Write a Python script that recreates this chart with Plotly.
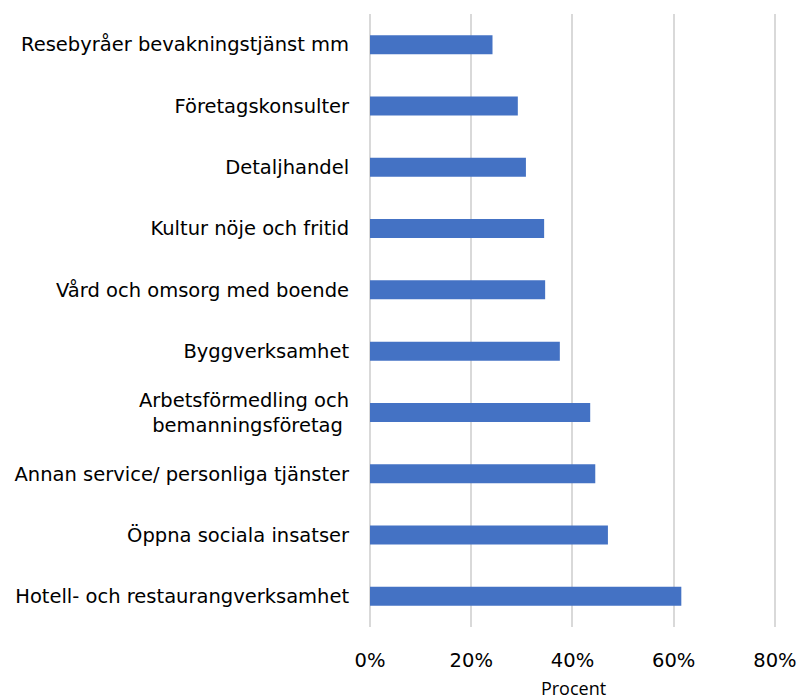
import plotly.graph_objects as go

categories = [
    "Resebyråer bevakningstjänst mm",
    "Företagskonsulter",
    "Detaljhandel",
    "Kultur nöje och fritid",
    "Vård och omsorg med boende",
    "Byggverksamhet",
    "Arbetsförmedling och<br>bemanningsföretag\u00a0",
    "Annan service/ personliga tjänster",
    "Öppna sociala insatser",
    "Hotell- och restaurangverksamhet",
]
values = [0.242, 0.292, 0.308, 0.344, 0.346, 0.375, 0.435, 0.445, 0.470, 0.615]
x_ticks = [0, 0.2, 0.4, 0.6, 0.8]
x_ticklabels = ["0%", "20%", "40%", "60%", "80%"]

fig = go.Figure(go.Bar(
    x=values,
    y=categories,
    orientation="h",
    marker=dict(color="#4472C4", line=dict(width=0)),
    hoverinfo="skip",
))

fig.update_layout(
    width=800, height=700,
    margin=dict(l=370, r=23, t=14, b=73, autoexpand=False),
    paper_bgcolor="white", plot_bgcolor="white",
    bargap=0.69,
    showlegend=False,
    font=dict(family="DejaVu Sans", color="#000000"),
)
fig.update_xaxes(
    range=[0, 0.804],
    tickvals=x_ticks,
    ticktext=x_ticklabels,
    showgrid=True, gridcolor="#d9d9d9", gridwidth=1.5,
    zeroline=True, zerolinecolor="#d9d9d9", zerolinewidth=1.5,
    showline=False,
    ticks="outside", ticklen=16, tickcolor="rgba(0,0,0,0)",
    tickfont=dict(family="DejaVu Sans", size=19.5, color="#000000"),
    title=dict(text="Procent", font=dict(family="Open Sans", size=18, color="#000000"), standoff=12),
    automargin=False,
)
fig.update_yaxes(
    autorange="reversed",
    showgrid=False, zeroline=False, showline=False,
    ticks="outside", ticklen=16, tickcolor="rgba(0,0,0,0)",
    tickfont=dict(family="DejaVu Sans", size=19.5, color="#000000"),
    automargin=False,
)

fig.write_html("out.html")
